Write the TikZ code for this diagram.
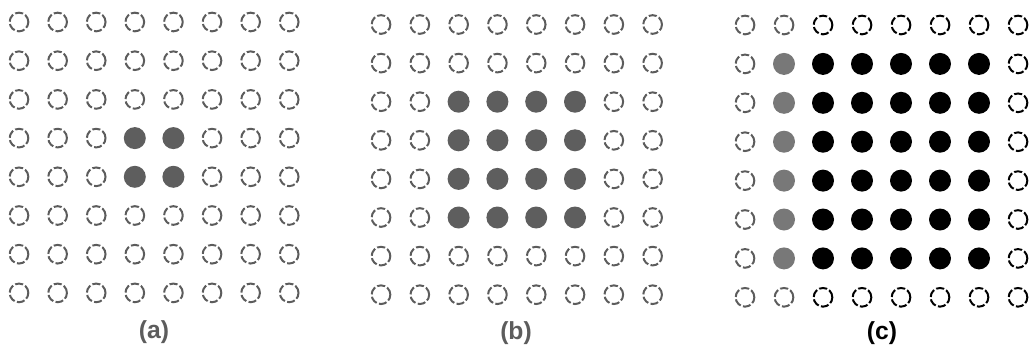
\documentclass[tikz,border=0pt]{standalone}
\usepackage{fontspec}
\setmainfont{Liberation Sans}
\usepackage{xcolor}
\usetikzlibrary{positioning}
\definecolor{ringgray}{HTML}{5C5C5C}
\definecolor{blobgray}{HTML}{5E5E5E}
\definecolor{blobgrayc}{HTML}{787878}

\begin{document}
\begin{tikzpicture}[
  x=0.75pt, y=-0.75pt,
  hole/.style={circle,draw=ringgray,line width=1.5pt,dash pattern=on 6pt off 1.8pt,minimum size=14pt,inner sep=0pt},
  holek/.style={hole,draw=black},
  blob/.style={circle,fill=blobgray,minimum size=16.5pt,inner sep=0pt},
  blobc/.style={blob,fill=blobgrayc},
  blobk/.style={blob,fill=black},
  lab/.style={font=\fontsize{18.5}{20}\selectfont\bfseries}
]
\useasboundingbox (0,0) rectangle (1036,354);
\foreach \r in {0,...,7}
  \foreach \c in {0,...,7}{
    \pgfmathtruncatemacro\inn{(\r>2)&&(\r<5)&&(\c>2)&&(\c<5)}
    \ifnum\inn=1
      \node[blob] (a-\r-\c) at ({19+38.6*\c},{22+38.7*\r}) {};
    \else
      \node[hole] (a-\r-\c) at ({19+38.6*\c},{22+38.7*\r}) {};
    \fi
  }
\foreach \r in {0,...,7}
  \foreach \c in {0,...,7}{
    \pgfmathtruncatemacro\inn{(\r>1)&&(\r<6)&&(\c>1)&&(\c<6)}
    \ifnum\inn=1
      \node[blob] (b-\r-\c) at ({381+38.8*\c},{24.5+38.6*\r}) {};
    \else
      \node[hole] (b-\r-\c) at ({381+38.8*\c},{24.5+38.6*\r}) {};
    \fi
  }
\foreach \r in {0,...,7}
  \foreach \c in {0,...,7}{
    \pgfmathtruncatemacro\inn{(\r>0)&&(\r<7)&&(\c>0)&&(\c<7)}
    \ifnum\inn=1
      \ifnum\c=1
        \node[blobc] (c-\r-\c) at ({745+39*\c},{25+38.9*\r}) {};
      \else
        \node[blobk] (c-\r-\c) at ({745+39*\c},{25+38.9*\r}) {};
      \fi
    \else
      \ifnum\c<2
        \node[hole] (c-\r-\c) at ({745+39*\c},{25+38.9*\r}) {};
      \else
        \node[holek] (c-\r-\c) at ({745+39*\c},{25+38.9*\r}) {};
      \fi
    \fi
  }
\node[lab,text=ringgray] (la) at (154,332) {(a)};
\node[lab,text=ringgray] (lb) at (516,333) {(b)};
\node[lab] (lc) at (882,333) {(c)};
\end{tikzpicture}
\end{document}
